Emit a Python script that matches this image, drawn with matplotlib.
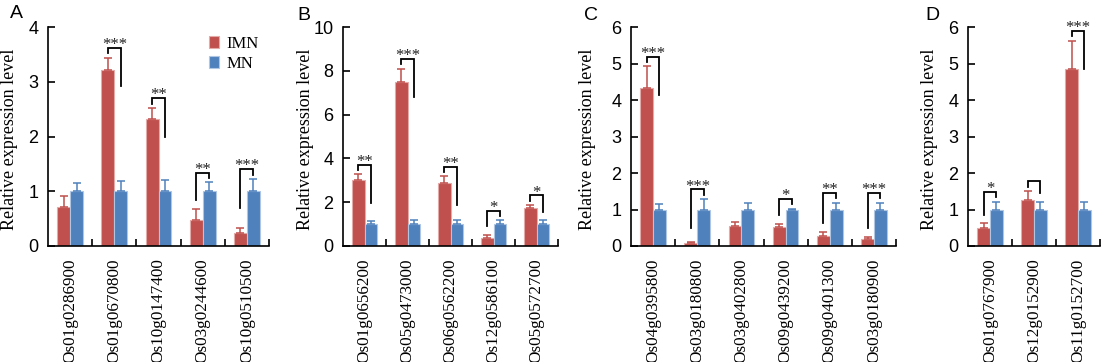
import numpy as np
import matplotlib
matplotlib.use("Agg")
import matplotlib.pyplot as plt

plt.rcParams["font.family"] = "Liberation Serif"

# ---- data ----
genes_a = ["Os01g0286900", "Os01g0670800", "Os10g0147400", "Os03g0244600", "Os10g0510500"]
imn_a = [0.72, 3.22, 2.32, 0.48, 0.24]
imn_err_a = [0.19, 0.22, 0.20, 0.20, 0.09]
mn_a = [1.0, 1.0, 1.0, 1.0, 1.0]
mn_err_a = [0.15, 0.19, 0.21, 0.16, 0.22]
sig_a = [None, "***", "**", "**", "***"]

genes_b = ["Os01g0656200", "Os05g0473000", "Os06g0562200", "Os12g0586100", "Os05g0572700"]
imn_b = [3.00, 7.48, 2.88, 0.37, 1.72]
imn_err_b = [0.27, 0.62, 0.30, 0.14, 0.14]
mn_b = [1.0, 1.0, 1.0, 1.0, 1.0]
mn_err_b = [0.14, 0.21, 0.17, 0.17, 0.17]
sig_b = ["**", "***", "**", "*", "*"]

genes_c = ["Os04g0395800", "Os03g0180800", "Os03g0402800", "Os09g0439200", "Os09g0401300", "Os03g0180900"]
imn_c = [4.33, 0.07, 0.56, 0.51, 0.27, 0.20]
imn_err_c = [0.59, 0.05, 0.11, 0.10, 0.12, 0.04]
mn_c = [1.0, 1.0, 1.0, 1.0, 1.0, 1.0]
mn_err_c = [0.16, 0.28, 0.19, 0.02, 0.19, 0.19]
sig_c = ["***", "***", None, "*", "**", "***"]

genes_d = ["Os01g0767900", "Os12g0152900", "Os11g0152700"]
imn_d = [0.50, 1.26, 4.84]
imn_err_d = [0.12, 0.25, 0.79]
mn_d = [1.0, 1.0, 1.0]
mn_err_d = [0.21, 0.21, 0.20]
sig_d = ["*", "", "***"]

ymax = [4, 10, 6, 6]
ystep = [1, 2, 1, 1]
letters = ["A", "B", "C", "D"]

RED, RED_EDGE = "#C0504D", "#E3AAA8"
BLUE, BLUE_EDGE = "#4F81BD", "#AFC6E3"
W = 0.29

fig = plt.figure(figsize=(11.05, 3.62), dpi=100)
H = 1105, 362
boxes = [(48, 269), (343, 558), (631, 896), (968, 1100)]
label_off = [38, 37, 44, 39]   # px from spine to y-label centre
letter_pos = [(16, 14), (304, 16), (591, 16), (932, 15)]
top_px, bot_px = 27, 246

panels = [
    (genes_a, imn_a, imn_err_a, mn_a, mn_err_a, sig_a),
    (genes_b, imn_b, imn_err_b, mn_b, mn_err_b, sig_b),
    (genes_c, imn_c, imn_err_c, mn_c, mn_err_c, sig_c),
    (genes_d, imn_d, imn_err_d, mn_d, mn_err_d, sig_d),
]

for k, (genes, imn, imn_err, mn, mn_err, sig) in enumerate(panels):
    l, r = boxes[k]
    ax = fig.add_axes([l / H[0], 1 - bot_px / H[1], (r - l) / H[0], (bot_px - top_px) / H[1]])
    n = len(genes)
    x = np.arange(n) + 0.5
    ym = ymax[k]

    ax.bar(x - W / 2, imn, W, color=RED, edgecolor=RED_EDGE, linewidth=0.8, label="IMN",
           yerr=[np.zeros(n), imn_err], error_kw=dict(ecolor=RED, capsize=3, elinewidth=1.1, capthick=1.1))
    ax.bar(x + W / 2, mn, W, color=BLUE, edgecolor=BLUE_EDGE, linewidth=0.8, label="MN",
           yerr=[np.zeros(n), mn_err], error_kw=dict(ecolor=BLUE, capsize=3, elinewidth=1.1, capthick=1.1))

    # significance brackets
    for i, s in enumerate(sig):
        if s is None:
            continue
        up_i = imn[i] + imn_err[i]
        up_m = mn[i] + mn_err[i]
        top = max(up_i, up_m) + 0.045 * ym
        if up_i >= up_m:
            left_end = up_i + 0.02 * ym
            right_end = top - min(0.175 * ym, top - up_m - 0.04 * ym)
        else:
            right_end = up_m + 0.02 * ym
            left_end = top - min(0.175 * ym, top - up_i - 0.04 * ym)
        xl, xr = x[i] - W / 2, x[i] + W / 2
        ax.plot([xl, xl, xr, xr], [left_end, top, top, right_end], color="black", lw=1.3,
                clip_on=False, solid_joinstyle="miter")
        if s:
            ax.text(x[i], top - 0.005 * ym, s, ha="center", va="baseline",
                    fontsize=12, color="#222222", clip_on=False)

    ax.set_xlim(0, n)
    ax.set_ylim(0, ym)
    ax.set_yticks(np.arange(0, ym + 0.01, ystep[k]))
    ax.set_yticklabels([f"{v:g}" for v in np.arange(0, ym + 0.01, ystep[k])],
                       fontfamily="Liberation Sans", fontsize=13)
    ax.set_xticks(x)
    ax.set_xticklabels(genes, rotation=90, fontsize=12.3, va="top")
    ax.set_xticks(np.arange(1, n + 1), minor=True)
    ax.tick_params(axis="x", which="major", length=0, pad=9)
    ax.tick_params(axis="x", which="minor", direction="in", length=5, width=1.2)
    ax.tick_params(axis="y", direction="in", length=5, width=1.2, pad=7)
    for sp in ["top", "right"]:
        ax.spines[sp].set_visible(False)
    for sp in ["left", "bottom"]:
        ax.spines[sp].set_linewidth(1.2)

    # y label placed by pixel offset from the spine
    fig.text((l - label_off[k]) / H[0], 1 - (top_px + bot_px) / 2 / H[1] - 0.008,
             "Relative expression level", rotation=90, fontsize=13, ha="center", va="center")

    lx, ly = letter_pos[k]
    fig.text(lx / H[0], 1 - ly / H[1], letters[k], fontfamily="Liberation Sans",
             fontsize=14, ha="center", va="center")

    if k == 0:
        ax.legend(loc="upper left", bbox_to_anchor=(0.70, 0.99), frameon=False, fontsize=12,
                  handlelength=0.6, handleheight=0.7, handletextpad=0.4, labelspacing=0.25,
                  borderaxespad=0)

fig.savefig("out.png", dpi=100)
